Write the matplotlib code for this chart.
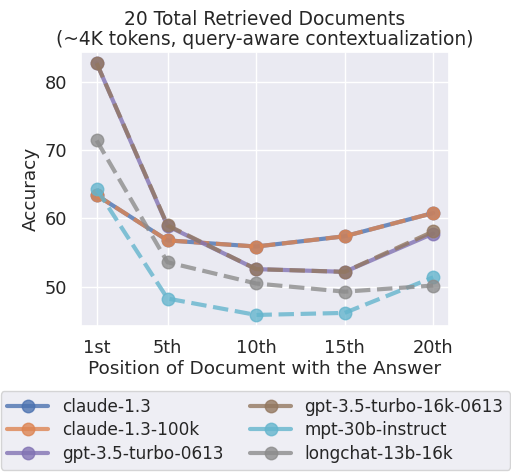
import matplotlib
matplotlib.use("Agg")
import matplotlib.pyplot as plt
import seaborn as sns
from matplotlib.lines import Line2D

positions = [1, 5, 10, 15, 20]
tick_labels = ["1st", "5th", "10th", "15th", "20th"]

claude_13 = [63.4, 56.8, 55.9, 57.4, 60.8]
claude_13_100k = [63.4, 56.8, 55.9, 57.4, 60.8]
gpt35_0613 = [82.7, 58.9, 52.6, 52.2, 57.8]
gpt35_16k = [82.7, 59.0, 52.6, 52.2, 58.1]
mpt_30b = [64.3, 48.3, 45.9, 46.2, 51.4]
longchat = [71.4, 53.6, 50.5, 49.3, 50.2]

sns.set_theme(style="darkgrid")
pal = sns.color_palette("deep")

series = [
    ("claude-1.3", claude_13, pal[0], "-"),
    ("claude-1.3-100k", claude_13_100k, pal[1], "--"),
    ("gpt-3.5-turbo-0613", gpt35_0613, pal[4], "-"),
    ("gpt-3.5-turbo-16k-0613", gpt35_16k, pal[5], "--"),
    ("mpt-30b-instruct", mpt_30b, pal[9], "--"),
    ("longchat-13b-16k", longchat, pal[7], "--"),
]

fig = plt.figure(figsize=(5.11, 4.73), dpi=100)
ax = fig.add_axes([0.158, 0.311, 0.721, 0.580])

handles = []
for name, vals, col, ls in series:
    ax.plot(positions, vals, linestyle=ls, color=col, linewidth=3, marker="o",
            markersize=9, alpha=0.8)
    handles.append(Line2D([], [], color=col, linewidth=3, marker="o",
                          markersize=9, alpha=0.8, label=name))

ax.set_xticks(positions)
ax.set_xticklabels(tick_labels)
ax.set_xlim(0.1, 20.9)
ax.set_ylim(44.3, 84.4)
ax.set_yticks([50, 60, 70, 80])
ax.tick_params(labelsize=12.8)
ax.set_xlabel("Position of Document with the Answer", fontsize=13.3, labelpad=2)
ax.set_ylabel("Accuracy", fontsize=13.3)
ax.set_title("20 Total Retrieved Documents\n(~4K tokens, query-aware contextualization)",
             fontsize=13.4, linespacing=1.05, pad=5)

fig.legend(handles=handles, ncol=2, fontsize=12.2, loc="lower center",
           bbox_to_anchor=(0.5, 0.0), frameon=True, handlelength=2.4,
           columnspacing=1.6, borderaxespad=0.2, labelspacing=0.32)

fig.savefig("out.png", dpi=100)
